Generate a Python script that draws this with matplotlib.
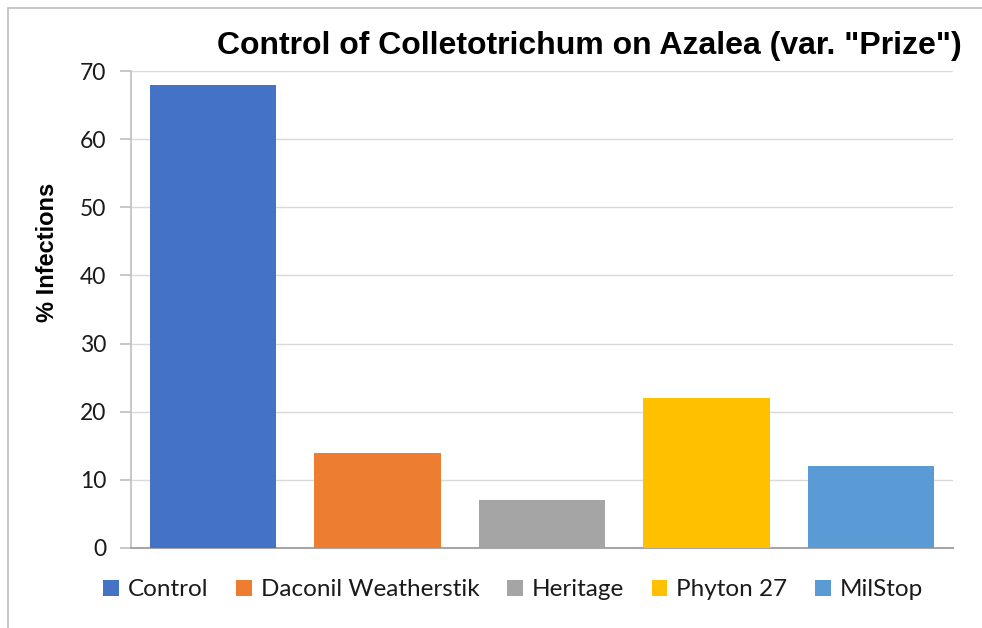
import matplotlib.pyplot as plt
from matplotlib.patches import Rectangle, Patch

treatments = ["Control", "Daconil Weatherstik", "Heritage", "Phyton 27", "MilStop"]
infections = [68, 14, 7, 22, 12]
colors = ["#4472C4", "#ED7D31", "#A5A5A5", "#FFC000", "#5B9BD5"]
yticks = [0, 10, 20, 30, 40, 50, 60, 70]

fig = plt.figure(figsize=(9.82, 6.28), dpi=100)
# chart border (cut off on the right and bottom)
fig.patches.append(Rectangle((8 / 982, -0.1), 1.2, 1 - 8 / 628 + 0.1, transform=fig.transFigure,
                             fill=False, edgecolor="#bfbfbf", linewidth=1.2))

ax = fig.add_axes([131 / 982, 1 - 548 / 628, (953 - 131) / 982, (548 - 71) / 628])
x = range(len(treatments))
ax.bar(x, infections, width=0.77, color=colors, zorder=3)
ax.set_xlim(-0.5, len(treatments) - 0.5)
ax.set_ylim(0, 70)
ax.set_yticks(yticks)
ax.set_xticks([])
ax.grid(axis="y", color="#d9d9d9", linewidth=1, zorder=0)
for s in ["top", "right"]:
    ax.spines[s].set_visible(False)
ax.spines["left"].set_color("#bfbfbf")
ax.spines["bottom"].set_color("#a6a6a6")
ax.spines["left"].set_linewidth(1.2)
ax.spines["bottom"].set_linewidth(1.5)
ax.tick_params(axis="y", length=8, color="#bfbfbf", width=1.2, pad=10,
               labelsize=16.5, labelcolor="#1a1a1a")
for lab in ax.get_yticklabels():
    lab.set_fontfamily("Lato")

fig.text(47 / 982, 1 - 252 / 628, "% Infections", rotation=90, ha="center", va="center",
         fontsize=17, fontweight="bold", family="Liberation Sans")
fig.text(589 / 982, 1 - 46 / 628, 'Control of Colletotrichum on Azalea (var. "Prize")',
         ha="center", va="center", fontsize=23, fontweight="bold", family="Liberation Sans")

handles = [Patch(facecolor=c) for c in colors]
leg = fig.legend(handles, treatments, loc="center", bbox_to_anchor=(513 / 982, 1 - 590 / 628),
                 ncol=5, frameon=False, handlelength=0.65, handleheight=0.65, handletextpad=0.35,
                 columnspacing=1.15, prop={"family": "Lato", "size": 17.5})
for t in leg.get_texts():
    t.set_color("#1a1a1a")

fig.savefig("out.png", dpi=100)
